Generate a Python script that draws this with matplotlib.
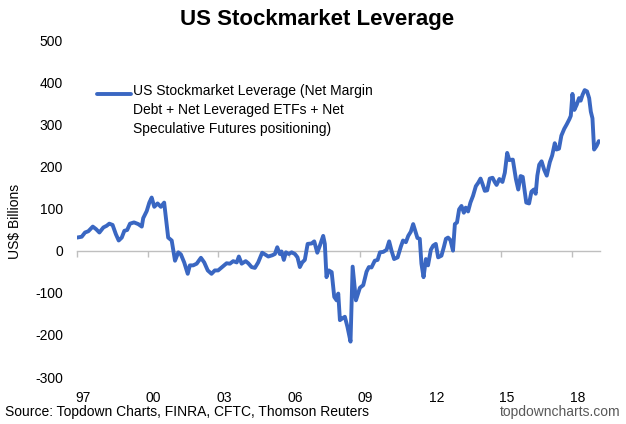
import numpy as np
import matplotlib
matplotlib.use("Agg")
import matplotlib.pyplot as plt
from matplotlib.lines import Line2D

plt.rcParams['font.family'] = ['Liberation Sans', 'DejaVu Sans']
plt.rcParams['axes.unicode_minus'] = False

# decimal year / US$ bn
years = [1997.00, 1997.20, 1997.34, 1997.48, 1997.67, 1997.81, 1997.95,
         1998.12, 1998.26, 1998.37, 1998.51, 1998.65, 1998.77, 1998.90,
         1999.01, 1999.13, 1999.25, 1999.42, 1999.60, 1999.75, 1999.81, 1999.96,
         2000.07, 2000.17, 2000.28, 2000.42, 2000.56, 2000.70, 2000.87,
         2001.02, 2001.16, 2001.30, 2001.41, 2001.55, 2001.70, 2001.79, 2001.93,
         2002.08, 2002.26, 2002.40, 2002.55, 2002.71, 2002.85, 2002.99,
         2003.16, 2003.35, 2003.49, 2003.63, 2003.78, 2003.87, 2003.99,
         2004.16, 2004.27, 2004.41, 2004.55, 2004.69, 2004.86, 2004.98,
         2005.12, 2005.29, 2005.40, 2005.50, 2005.61, 2005.68, 2005.78, 2005.87, 2005.99,
         2006.11, 2006.25, 2006.36, 2006.46, 2006.56, 2006.67, 2006.79, 2006.96,
         2007.07, 2007.20, 2007.31, 2007.45, 2007.52, 2007.59, 2007.69, 2007.81, 2007.92,
         2008.02, 2008.09, 2008.16, 2008.26, 2008.37, 2008.48, 2008.61, 2008.70, 2008.84,
         2009.01, 2009.15, 2009.29, 2009.39, 2009.50, 2009.64, 2009.76, 2009.86, 2010.00,
         2010.14, 2010.25, 2010.35, 2010.46, 2010.61, 2010.75, 2010.84, 2010.96,
         2011.06, 2011.17, 2011.27, 2011.37, 2011.45, 2011.55, 2011.62, 2011.71, 2011.81, 2011.90,
         2012.02, 2012.12, 2012.23, 2012.33, 2012.47, 2012.57, 2012.66, 2012.75, 2012.85, 2012.96,
         2013.04, 2013.13, 2013.22, 2013.32, 2013.42, 2013.50, 2013.60, 2013.70, 2013.81, 2013.93,
         2014.03, 2014.13, 2014.22, 2014.31, 2014.41, 2014.52, 2014.64, 2014.73, 2014.81, 2014.93,
         2015.06, 2015.16, 2015.26, 2015.35, 2015.50, 2015.63, 2015.73, 2015.83, 2015.92,
         2016.07, 2016.19, 2016.29, 2016.39, 2016.47, 2016.54, 2016.62, 2016.72, 2016.83, 2016.94,
         2017.07, 2017.17, 2017.28, 2017.35, 2017.46, 2017.56, 2017.68, 2017.79, 2017.90, 2017.96,
         2018.03, 2018.11, 2018.21, 2018.31, 2018.38, 2018.46, 2018.55, 2018.65, 2018.74, 2018.81,
         2018.88, 2018.95, 2019.05, 2019.15]
leverage = [31, 33, 43, 46, 57, 51, 43,
            55, 59, 64, 61, 39, 24, 31,
            47, 49, 64, 67, 63, 57, 77, 94,
            114, 126, 104, 112, 104, 114, 31,
            24, -24, -4, -9, -28, -55, -35, -35,
            -31, -17, -28, -47, -55, -47, -47,
            -39, -30, -31, -25, -28, -14, -31,
            -25, -30, -39, -41, -28, -5, -9,
            -14, -11, -8, 8, -8, -2, -22, -4, -8,
            -4, -8, -16, -39, -28, -22, 16, 17,
            22, -5, 12, 35, 16, -63, -47, -51, -110,
            -118, -102, -165, -161, -157, -181, -216, -38, -118,
            -88, -82, -50, -39, -40, -24, -22, -4, -3,
            2, 22, 0, -20, -16, 10, 24, 20,
            35, 45, 63, 45, 30, 28, -31, -63, -20, -35,
            2, 12, 16, -16, -12, 8, 28, 31, 25, 0,
            63, 67, 98, 106, 90, 102, 93, 114, 130, 153,
            161, 171, 157, 142, 143, 171, 173, 163, 156, 170,
            163, 185, 232, 215, 216, 170, 145, 177, 175,
            114, 112, 140, 145, 135, 178, 204, 212, 192, 178,
            210, 226, 255, 240, 242, 273, 289, 300, 312, 320,
            372, 334, 346, 362, 356, 370, 381, 378, 362, 330,
            314, 240, 248, 260]

tick_years = [1997, 2000, 2003, 2006, 2009, 2012, 2015, 2018]
tick_labels = ['97', '00', '03', '06', '09', '12', '15', '18']
y_ticks = [500, 400, 300, 200, 100, 0, -100, -200, -300]

blue = '#3A67C2'
fig = plt.figure(figsize=(6.26, 4.24), dpi=100)
ax = fig.add_axes([77 / 626, 1 - 377 / 424, 523 / 626, 337 / 424])

ax.plot(years, leverage, color=blue, lw=2.8, solid_joinstyle='round',
        solid_capstyle='round', zorder=3)

ax.set_xlim(1997, 2019.2)
ax.set_ylim(-300, 500)
ax.set_yticks(y_ticks)
ax.set_yticklabels([str(v) for v in y_ticks])
ax.tick_params(axis='y', length=0, pad=10, labelsize=10)
ax.set_xticks([y + 0.25 for y in tick_years])
ax.set_xticklabels(tick_labels)
ax.tick_params(axis='x', length=0, pad=10, labelsize=10)
for s in ax.spines.values():
    s.set_visible(False)

# zero line with the date ticks on it
zero = ax.secondary_xaxis(300 / 800)
zero.set_xticks(tick_years)
zero.set_xticklabels([])
zero.tick_params(axis='x', direction='out', length=4, color='#BFBFBF', width=1)
zero.spines['bottom'].set_color('#BFBFBF')
zero.spines['bottom'].set_linewidth(1)

# legend drawn by hand so the handle sits on the first line
ax.add_line(Line2D([0.038, 0.103], [0.840, 0.840], transform=ax.transAxes,
                   color=blue, lw=2.8, solid_capstyle='round'))
ax.text(0.107, 0.868, 'US Stockmarket Leverage (Net Margin\nDebt + Net Leveraged ETFs + Net\n'
        'Speculative Futures positioning)', transform=ax.transAxes,
        ha='left', va='top', fontsize=10, linespacing=1.45)

fig.text(317 / 626, 1 - 20 / 424, 'US Stockmarket Leverage', ha='center', va='center',
         fontsize=16, fontweight='bold')
fig.text(15 / 626, 1 - 221 / 424, 'US$ Billions', rotation=90, ha='center', va='center',
         fontsize=10)
fig.text(5 / 626, 1 - 412 / 424, 'Source: Topdown Charts, FINRA, CFTC, Thomson Reuters',
         ha='left', va='center', fontsize=10)
fig.text(620 / 626, 1 - 412 / 424, 'topdowncharts.com', ha='right', va='center',
         fontsize=10, color='#595959')

fig.savefig('out.png', dpi=100)
